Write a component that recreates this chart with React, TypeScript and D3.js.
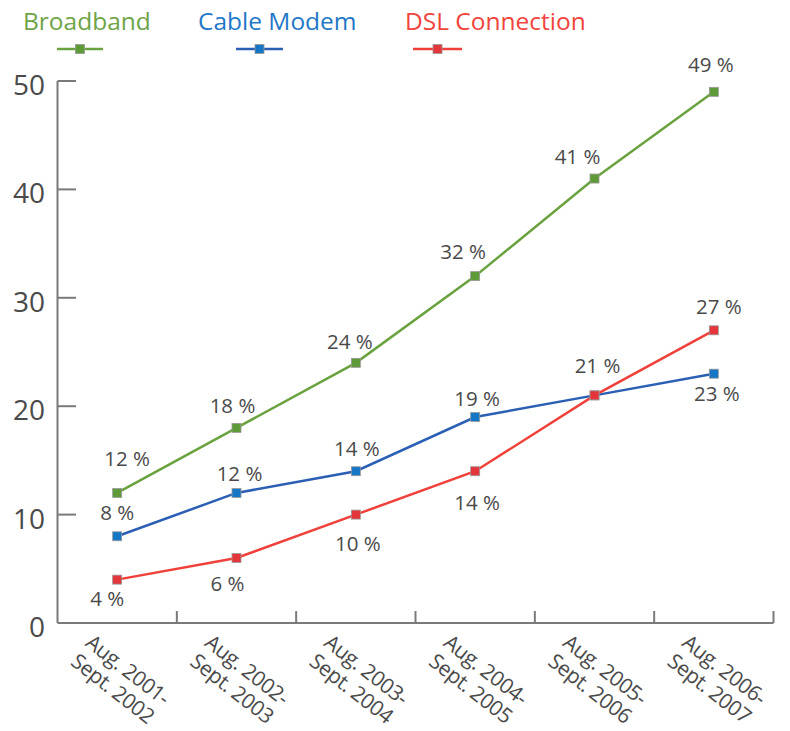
import React from "react";
import * as d3 from "d3";

const categories = [
  ["Aug. 2001-", "Sept. 2002"],
  ["Aug. 2002-", "Sept. 2003"],
  ["Aug. 2003-", "Sept. 2004"],
  ["Aug. 2004-", "Sept. 2005"],
  ["Aug. 2005-", "Sept. 2006"],
  ["Aug. 2006-", "Sept. 2007"],
];
const broadband = [12, 18, 24, 32, 41, 49];
const cableModem = [8, 12, 14, 19, 21, 23];
const dslConnection = [4, 6, 10, 14, 21, 27];
const yTicks = [0, 10, 20, 30, 40, 50];

// label placement (text centre relative to point); null = not labelled
const broadbandLabelOffsets: ([number, number] | null)[] = [[10, -35], [-4, -23], [-6, -22], [-12, -25], [-17, -23], [-3, -28]];
const cableLabelOffsets: ([number, number] | null)[] = [[0, -24], [3, -20], [1, -23], [2, -19], null, [3, 19]];
const dslLabelOffsets: ([number, number] | null)[] = [[-10, 18], [-9, 25], [2, 28], [2, 31], [3, -30], [5, -24]];

const FONT = "'Open Sans', 'Noto Sans', sans-serif";
const TEXT = "#4a4a4a";
const AXIS = "#7a7a7a";

const series = [
  { name: "Broadband", values: broadband, line: "#6aa23f", marker: "#5f9a38", text: "#6ea447", offsets: broadbandLabelOffsets, legendX: 23, legendLine: [57, 103] },
  { name: "Cable Modem", values: cableModem, line: "#2b5fb4", marker: "#1576c6", text: "#1f78c8", offsets: cableLabelOffsets, legendX: 198, legendLine: [236, 283] },
  { name: "DSL Connection", values: dslConnection, line: "#f0403a", marker: "#e3353a", text: "#f0443c", offsets: dslLabelOffsets, legendX: 405, legendLine: [413, 462] },
];

export default function App() {
  const W = 790, H = 731;
  const keys = categories.map((c) => c.join(" "));
  const x = d3.scaleBand<string>().domain(keys).range([57.5, 773.5]).padding(0);
  const bw = x.bandwidth();
  const cx = (i: number) => (x(keys[i]) as number) + bw / 2;
  const y = d3.scaleLinear().domain([0, 50]).range([623, 81]);
  const line = d3.line<number>().x((_, i) => cx(i)).y((v) => y(v));
  const ms = 9;

  return (
    <svg width={W} height={H} style={{ position: "absolute", left: 0, top: 0, background: "#fff" }} fontFamily={FONT}>
      {/* legend */}
      {series.map((s) => (
        <g key={s.name}>
          <text x={s.legendX} y={30} fontSize={24.5} fill={s.text}>{s.name}</text>
          <line x1={s.legendLine[0]} x2={s.legendLine[1]} y1={49} y2={49} stroke={s.line} strokeWidth={2.5} />
          <rect x={(s.legendLine[0] + s.legendLine[1]) / 2 - ms / 2} y={49 - ms / 2} width={ms} height={ms} fill={s.marker} stroke="#999" strokeWidth={0.8} />
        </g>
      ))}

      {/* y axis */}
      <line x1={57.5} x2={57.5} y1={y(50)} y2={y(0)} stroke={AXIS} strokeWidth={2} />
      {yTicks.map((t) => (
        <g key={t}>
          {t > 0 && <line x1={57.5} x2={76} y1={y(t)} y2={y(t)} stroke={AXIS} strokeWidth={2} />}
          <text x={45} y={y(t) + 3} fontSize={28} fill={TEXT} textAnchor="end" dominantBaseline="central">{t}</text>
        </g>
      ))}

      {/* x axis */}
      <line x1={57.5} x2={773.5} y1={y(0)} y2={y(0)} stroke={AXIS} strokeWidth={2} />
      {keys.map((k, i) => {
        const bx = (x(k) as number) + bw;
        return <line key={"t" + i} x1={bx} x2={bx} y1={y(0)} y2={y(0) - 12} stroke={AXIS} strokeWidth={2} />;
      })}
      {categories.map((c, i) => (
        <text key={"xl" + i} transform={`translate(${cx(i) - 33},${y(0) + 22}) rotate(38)`} fontSize={21} fill={TEXT} letterSpacing={-0.4}>
          <tspan x={0} dy={0}>{c[0]}</tspan>
          <tspan x={0} dy={24}>{c[1]}</tspan>
        </text>
      ))}

      {/* lines */}
      {series.map((s) => (
        <path key={"l" + s.name} d={line(s.values) as string} fill="none" stroke={s.line} strokeWidth={2.5} />
      ))}
      {series.map((s) =>
        s.values.map((v, i) => (
          <rect key={s.name + "m" + i} x={cx(i) - ms / 2} y={y(v) - ms / 2} width={ms} height={ms} fill={s.marker} stroke="#999" strokeWidth={0.8} />
        ))
      )}
      {series.map((s) =>
        s.values.map((v, i) => {
          const o = s.offsets[i];
          if (!o) return null;
          return (
            <text key={s.name + "t" + i} x={cx(i) + o[0]} y={y(v) + o[1]} fontSize={20.5} fill={TEXT} textAnchor="middle" dominantBaseline="central">
              {v} %
            </text>
          );
        })
      )}
    </svg>
  );
}
